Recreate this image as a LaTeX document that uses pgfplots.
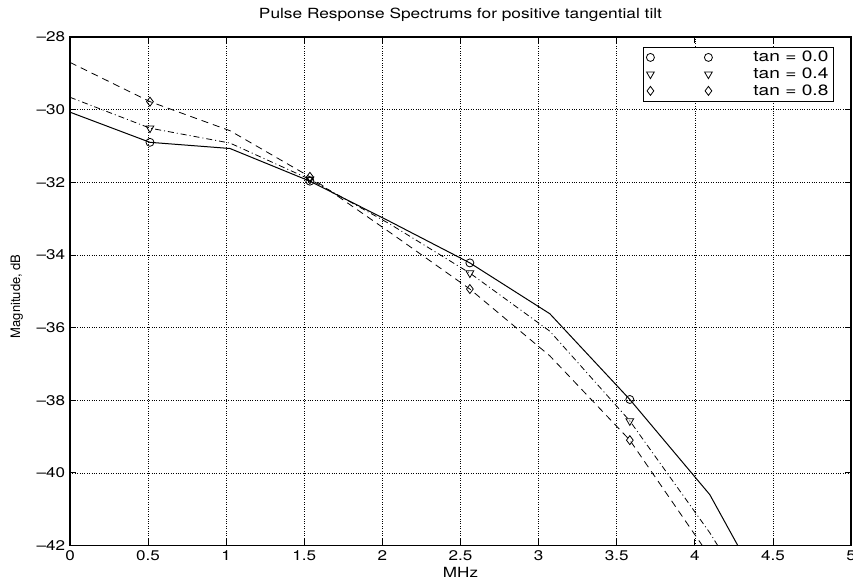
\documentclass[border=0pt]{standalone}
\usepackage{fontspec}
\setmainfont{TeX Gyre Heros}
\usepackage{graphicx}
\usepackage{pgfplots}
\pgfplotsset{compat=1.18}
\newcommand\sx[1]{\scalebox{1.22}[1]{#1}}
\newcommand\legtxt[1]{\resizebox{75pt}{\height}{#1}}
\begin{document}
\fontsize{14}{16}\selectfont
\begin{tikzpicture}
\useasboundingbox (-70pt,-37pt) rectangle (783pt,545.5pt);
\begin{axis}[
  at={(0pt,0pt)}, anchor=south west,
  scale only axis, width=781pt, height=508.5pt,
  xmin=0, xmax=5, ymin=-42, ymax=-28,
  xtick={0,0.5,1,1.5,2,2.5,3,3.5,4,4.5,5},
  xticklabels={\sx{0},\sx{0.5},\sx{1},\sx{1.5},\sx{2},\sx{2.5},\sx{3},\sx{3.5},\sx{4},\sx{4.5},\sx{5}},
  ytick={-42,-40,-38,-36,-34,-32,-30,-28},
  yticklabels={\sx{--42},\sx{--40},\sx{--38},\sx{--36},\sx{--34},\sx{--32},\sx{--30},\sx{--28}},
  tick label style={font=\fontsize{14}{16}\selectfont},
  tick align=inside, major tick length=6pt,
  tick style={black, line width=0.8pt},
  axis line style={black, line width=1.2pt},
  grid=major, grid style={black, dotted, line width=0.6pt},
  title={\resizebox{403pt}{\height}{Pulse Response Spectrums for positive tangential tilt}},
  title style={at={(axis description cs:0.5,1.032)}, anchor=center, font=\fontsize{14}{16}\selectfont},
  xlabel={\sx{MHz}},
  xlabel style={at={(axis description cs:0.5,-0.053)}, anchor=center, font=\fontsize{14}{16}\selectfont},
  ylabel={Magnitude, dB},
  ylabel style={at={(axis description cs:-0.068,0.49)}, anchor=center, font=\fontsize{13}{15}\selectfont},
  legend image code/.code={\path[draw=none,fill=none] (0pt,0pt) -- (102pt,0pt); \draw[#1,solid] plot coordinates {(1pt,0pt)}; \draw[#1,solid] plot coordinates {(59pt,0pt)};},
  legend style={at={(rel axis cs:0.978,0.981)}, anchor=north east, draw=black, fill=white, line width=0.8pt, row sep=0pt, inner xsep=3pt, inner ysep=2pt, font=\fontsize{15}{16.5}\selectfont},
  legend cell align=left,
]
\addlegendimage{black, mark=o, mark size=4pt, line width=0.8pt}
\addlegendentry{\legtxt{tan = 0.0}}
\addlegendimage{black, mark=triangle, mark size=4.5pt, mark options={rotate=180}, line width=0.8pt}
\addlegendentry{\legtxt{tan = 0.4}}
\addlegendimage{black, mark=diamond, mark size=4.5pt, line width=0.8pt}
\addlegendentry{\legtxt{tan = 0.8}}

\addplot[black, line width=1pt, mark=o, mark size=4pt, mark indices={2,4,6,8}, mark options={solid, line width=0.8pt}, forget plot] coordinates {
(0,-30.07) (0.512,-30.90) (1.024,-31.07) (1.536,-31.97) (2.048,-33.08) (2.56,-34.22) (3.072,-35.62) (3.584,-37.98) (4.096,-40.60) (4.608,-44.6)};
\addplot[black, line width=0.8pt, dash pattern=on 6pt off 3pt on 1pt off 3pt, mark=triangle, mark size=4.5pt, mark indices={2,4,6,8}, mark options={solid, rotate=180, line width=0.8pt}, forget plot] coordinates {
(0,-29.66) (0.512,-30.51) (1.024,-30.92) (1.536,-31.92) (2.048,-33.15) (2.56,-34.50) (3.072,-36.10) (3.584,-38.57) (4.096,-41.65) (4.608,-45.2)};
\addplot[black, line width=0.8pt, dash pattern=on 7pt off 5pt, mark=diamond, mark size=4.5pt, mark indices={2,4,6,8}, mark options={solid, line width=0.8pt}, forget plot] coordinates {
(0,-28.70) (0.512,-29.78) (1.024,-30.58) (1.536,-31.85) (2.048,-33.38) (2.56,-34.94) (3.072,-36.78) (3.584,-39.10) (4.096,-42.30) (4.608,-46.0)};
\end{axis}
\end{tikzpicture}
\end{document}
